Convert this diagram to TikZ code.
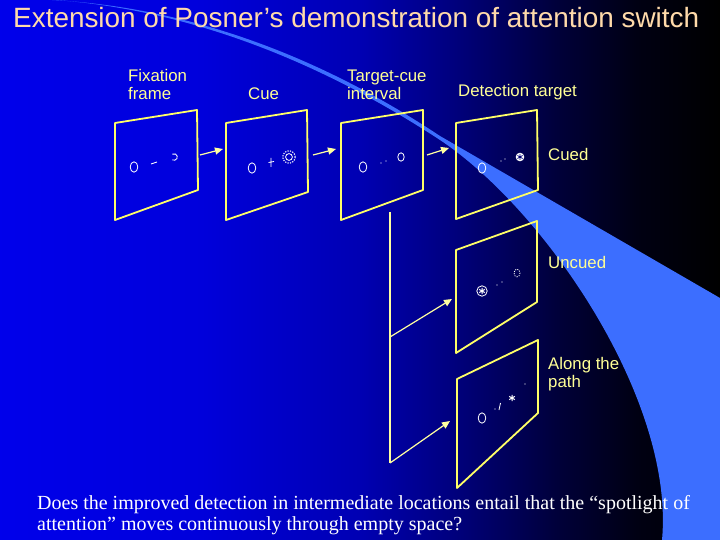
\documentclass[tikz,border=0pt]{standalone}
\usepackage{fontspec}
\setmainfont{Liberation Serif}
\setsansfont{Liberation Sans}
\usetikzlibrary{arrows.meta}
\definecolor{panelyellow}{RGB}{255,255,102}
\definecolor{connyellow}{RGB}{255,255,160}
\definecolor{labelyellow}{RGB}{255,255,150}
\definecolor{titlepeach}{RGB}{255,218,170}
\definecolor{beamblue}{RGB}{60,110,255}
\definecolor{navy}{RGB}{0,0,120}
\pgfdeclarehorizontalshading{bgshade}{100bp}{rgb(0bp)=(0,0,0.92); rgb(25bp)=(0,0,0.92); rgb(38.9bp)=(0,0,0.86); rgb(50bp)=(0,0,0.7); rgb(56.25bp)=(0,0,0.5); rgb(63.9bp)=(0,0,0.22); rgb(69.4bp)=(0,0,0.07); rgb(75bp)=(0,0,0); rgb(100bp)=(0,0,0)}
\tikzset{
  panel/.style={draw=panelyellow, line width=1.8, line join=round},
  conn/.style={draw=connyellow, line width=1.2},
  arr/.style={conn, -{Triangle[length=8,width=7]}},
  lab/.style={text=labelyellow, font=\sffamily\fontsize{16.8}{19}\selectfont, inner sep=0, anchor=base west},
  sym/.style={draw=white, line width=0.8},
  dotsym/.style={fill=white},
  astk/.pic={\draw[white,line width=1] (0,-3.2)--(0,3.2) (-2.8,-1.6)--(2.8,1.6) (-2.8,1.6)--(2.8,-1.6);}
}
\begin{document}
\begin{tikzpicture}[x=1pt,y=-1pt]
\useasboundingbox (0,0) rectangle (720,540);
\shade[shading=bgshade] (0,0) rectangle (720,540);
% spotlight beam
\fill[beamblue] (52,0) .. controls (200,8) and (330,63) .. (440,136) -- (720,298) -- (720,540) -- (662,540)
  .. controls (675,400) and (545,210) .. (440,140) .. controls (330,68) and (200,11) .. (56,0) -- cycle;
% title
\node[text=titlepeach, font=\sffamily\fontsize{27.9}{32}\selectfont, inner sep=0, anchor=base west] (title) at (13,28) {Extension of Posner’s demonstration of attention switch};
% labels
\node[lab] (l1a) at (128,82) {Fixation};
\node[lab] (l1b) at (128,100) {frame};
\node[lab] (l2) at (248,100) {Cue};
\node[lab] (l3a) at (347,82) {Target-cue};
\node[lab] (l3b) at (347,100) {interval};
\node[lab] (l4) at (458,97) {Detection target};
\node[lab] (l5) at (548,161) {Cued};
\node[lab] (l6) at (548,268) {Uncued};
\node[lab] (l7a) at (548,369) {Along the};
\node[lab] (l7b) at (548,387) {path};
% panels
\draw[panel] (115,123) -- (197,110) -- (198,190) -- (115,220) -- cycle;
\draw[panel] (226,123) -- (307,110) -- (308,192) -- (226,220) -- cycle;
\draw[panel] (341,123) -- (423,110) -- (423,190) -- (341,220) -- cycle;
\draw[panel] (456,123) -- (537,110) -- (538,190) -- (456,219) -- cycle;
\draw[panel] (456,250) -- (537,221) -- (537,302) -- (456,353) -- cycle;
\draw[panel] (457,379) -- (538,340) -- (538,413) -- (457,488) -- cycle;
% connectors
\coordinate (p1r) at (200,155); \coordinate (p2l) at (223,149);
\coordinate (p2r) at (313,155); \coordinate (p3l) at (336,149);
\coordinate (p3r) at (427,155); \coordinate (p4l) at (449,148);
\coordinate (vt) at (390,212); \coordinate (vm) at (390,337); \coordinate (vb) at (390,463);
\coordinate (p5l) at (452,299); \coordinate (p6l) at (450,421);
\draw[arr] (p1r) -- (p2l);
\draw[arr] (p2r) -- (p3l);
\draw[arr] (p3r) -- (p4l);
\draw[conn] (vt) -- (vb);
\draw[arr] (vm) -- (p5l);
\draw[arr] (vb) -- (p6l);
% panel 1 contents
\draw[sym] (134,167) ellipse (3.8 and 5.2);
\draw[sym] (151,164) -- (157,162);
\draw[sym] (174,157) ++(120:3.3) arc (120:-120:3.3);
% panel 2 contents
\draw[sym] (252,168) ellipse (3.8 and 5.2);
\draw[sym] (271,158) -- (271,167) (268.5,162.5) -- (274,161.5);
\draw[white, line width=1.1, dash pattern=on 1.2 off 1.3] (289,157) circle (6.2);
\draw[sym] (289,157) circle (3.4);
% panel 3 contents
\draw[sym] (363,167) ellipse (3.8 and 5.2);
\fill[dotsym] (381,163) circle (0.7) (386,161) circle (0.7);
\draw[sym] (401,157) ellipse (3.2 and 4.2);
% panel 4 contents
\draw[sym] (482,168) ellipse (3.8 and 5.2);
\fill[dotsym] (501,161) circle (0.7) (505,159) circle (0.7);
\fill[white] (520,157) circle (4.3);
\draw[navy, line width=0.7] (520,154) -- (520,160) (517.4,155.5) -- (522.6,158.5) (517.4,158.5) -- (522.6,155.5);
% panel 5 contents
\draw[sym] (482,291) circle (5.2);
\pic at (482,291) {astk};
\fill[dotsym] (497,285) circle (0.7) (502,282) circle (0.7);
\draw[white, line width=0.9, dash pattern=on 1 off 1.3] (517,273) ellipse (3 and 3.8);
% panel 6 contents
\draw[sym] (482,418) ellipse (3.8 and 5.2);
\fill[dotsym] (495,409) circle (0.6);
\draw[sym] (499,410) -- (500.5,403);
\pic at (512,398) {astk};
\fill[dotsym] (525,384) circle (0.7);
% question
\node[text=white, font=\fontsize{20}{23}\selectfont, inner sep=0, anchor=base west] (q1) at (37,509) {Does the improved detection in intermediate locations entail that the “spotlight of};
\node[text=white, font=\fontsize{20}{23}\selectfont, inner sep=0, anchor=base west] (q2) at (37,530) {attention” moves continuously through empty space?};
\end{tikzpicture}
\end{document}
